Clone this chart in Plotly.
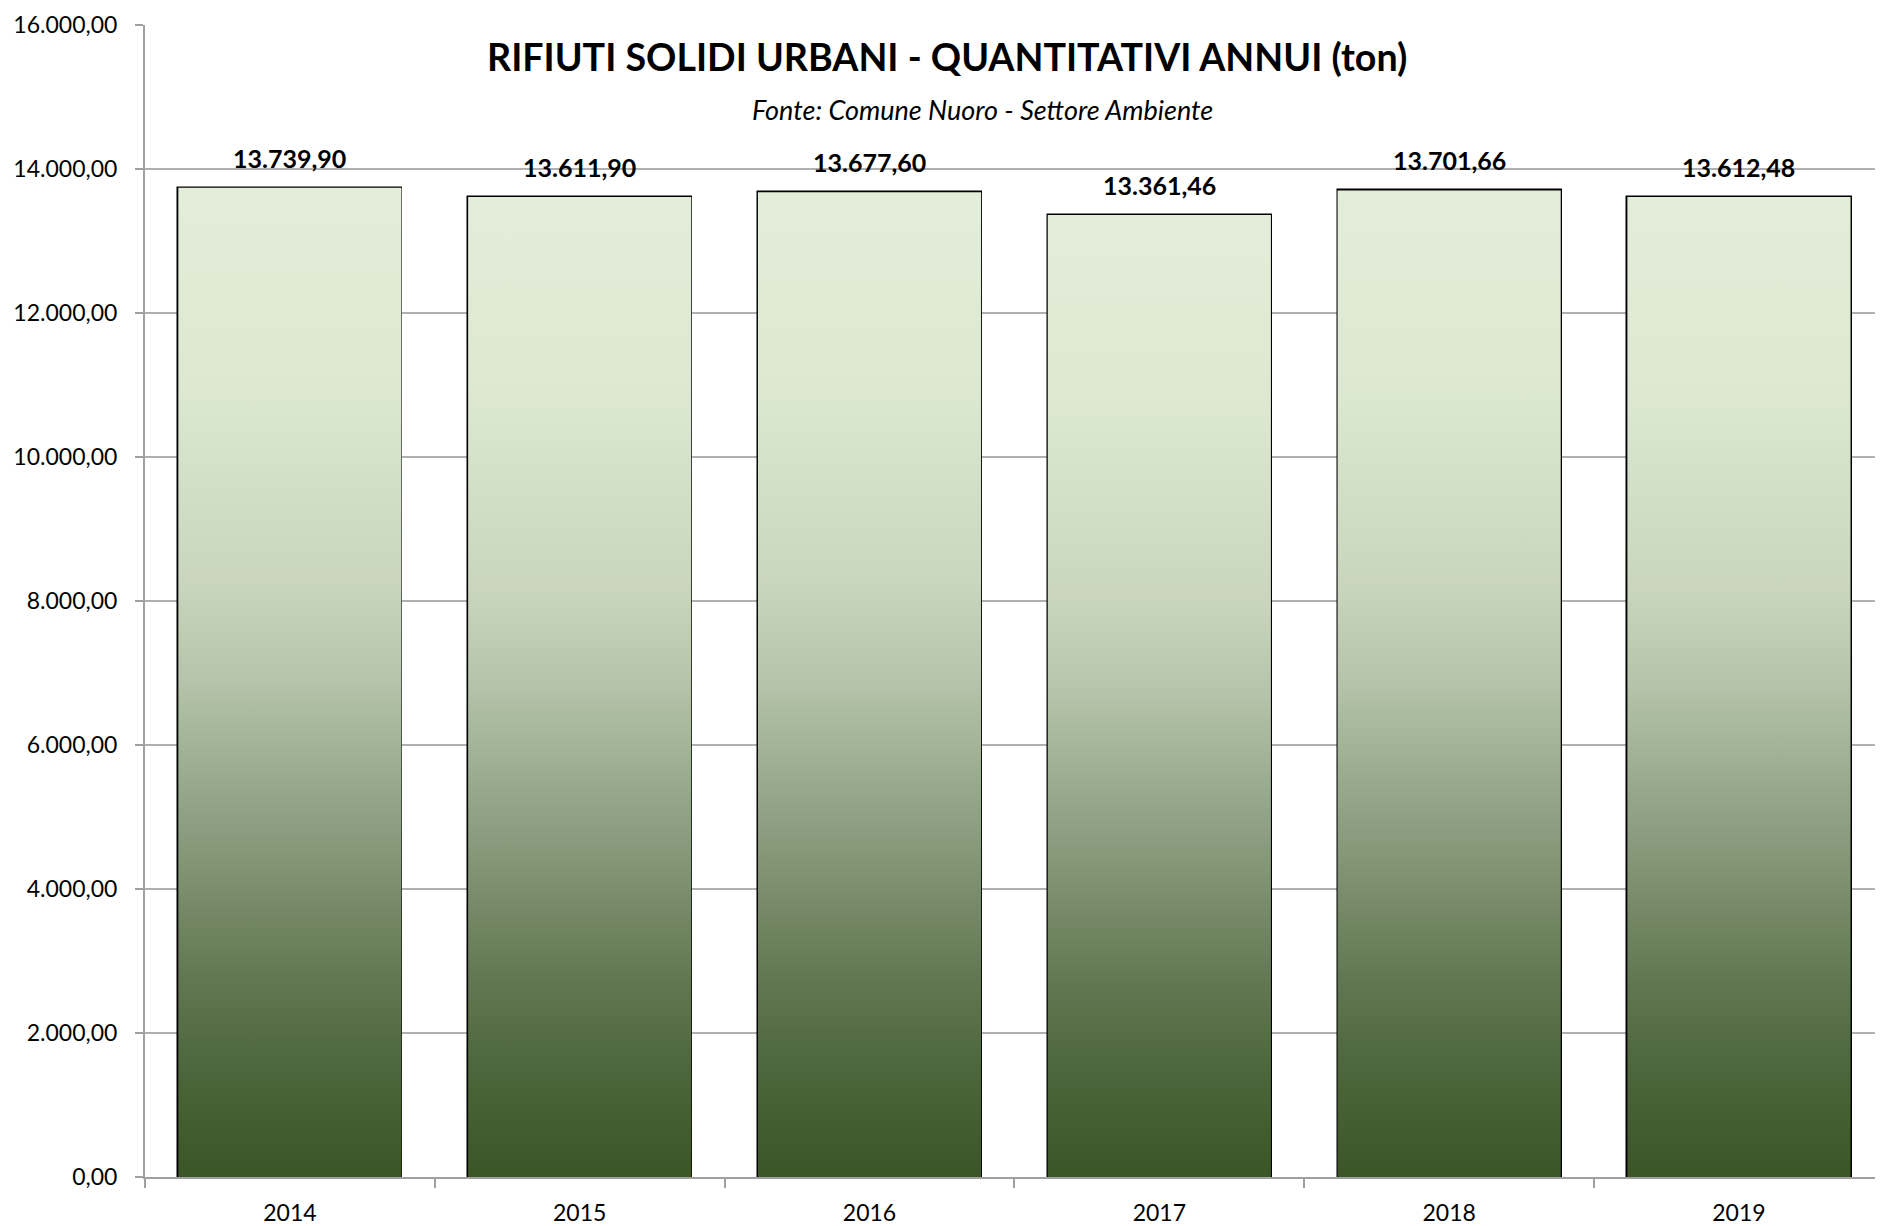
import plotly.graph_objects as go

years = ["2014", "2015", "2016", "2017", "2018", "2019"]
values = [13739.90, 13611.90, 13677.60, 13361.46, 13701.66, 13612.48]
y_ticks = [0, 2000, 4000, 6000, 8000, 10000, 12000, 14000, 16000]

title_text = "RIFIUTI SOLIDI URBANI - QUANTITATIVI ANNUI (ton)"
subtitle_text = "Fonte: Comune Nuoro - Settore Ambiente"

FONT = "Lato"
BAR_W = 0.77
gradient = [
    [0.0, "#3b5527"],
    [0.1, "#4b6439"],
    [0.2, "#617752"],
    [0.3, "#7d9070"],
    [0.4, "#98aa8c"],
    [0.5, "#b4c3a9"],
    [0.6, "#c9d6bd"],
    [0.8, "#dce8d1"],
    [1.0, "#e2eed9"],
]


def it_fmt(v):
    s = f"{v:,.2f}"
    return s.replace(",", "X").replace(".", ",").replace("X", ".")


xs = list(range(len(years)))
fig = go.Figure()

# gradient-filled bar bodies
for x, v in zip(xs, values):
    fig.add_trace(go.Scatter(
        x=[x - BAR_W / 2, x + BAR_W / 2, x + BAR_W / 2, x - BAR_W / 2, x - BAR_W / 2],
        y=[0, 0, v, v, 0],
        mode="lines", fill="toself",
        line=dict(width=0, color="rgba(0,0,0,0)"),
        fillgradient=dict(type="vertical", colorscale=gradient, start=0, stop=v),
        hoverinfo="skip", showlegend=False,
    ))

# outlines
fig.add_trace(go.Bar(
    x=xs, y=values, width=BAR_W,
    marker=dict(color="rgba(0,0,0,0)", line=dict(color="#000000", width=2.5)),
    showlegend=False,
))

for x, v in zip(xs, values):
    fig.add_annotation(
        x=x, y=v, text="<b>" + it_fmt(v) + "</b>", showarrow=False,
        yanchor="bottom", yshift=13, font=dict(family=FONT, size=25, color="#000000"),
    )

fig.add_annotation(
    xref="paper", yref="paper", x=0.4614, y=0.973, text="<b>" + title_text + "</b>",
    showarrow=False, xanchor="center", yanchor="middle",
    font=dict(family=FONT, size=37.6, color="#000000"),
)
fig.add_annotation(
    xref="paper", yref="paper", x=0.4816, y=0.927, text="<i>" + subtitle_text + "</i>",
    showarrow=False, xanchor="center", yanchor="middle",
    font=dict(family=FONT, size=27, color="#000000"),
)

fig.update_layout(
    width=1875, height=1218,
    margin=dict(l=137, r=0, t=17, b=49, autoexpand=False),
    plot_bgcolor="white", paper_bgcolor="white",
    separators=",.",
    font=dict(family=FONT, size=23, color="#000000"),
    bargap=0,
)
fig.update_xaxes(
    range=[-0.5, 5.497], automargin=False,
    tickvals=xs, ticktext=years, ticks="", ticklabelstandoff=14,
    showgrid=False, zeroline=False,
    showline=True, linecolor="#a0a0a0", linewidth=2,
    tickfont=dict(family=FONT, size=23, color="#000000"),
    minor=dict(tickvals=[x - 0.5 for x in xs] + [xs[-1] + 0.5], ticks="outside",
               ticklen=9, tickcolor="#a0a0a0", tickwidth=2, showgrid=False),
)
fig.update_yaxes(
    range=[0, 16000], tickvals=y_ticks, tickformat=",.2f", automargin=False,
    showgrid=True, gridcolor="#b0b0b0", gridwidth=1.5,
    zeroline=False, showline=True, linecolor="#a0a0a0", linewidth=2,
    ticks="outside", ticklen=8, tickcolor="#a0a0a0", tickwidth=2, ticklabelstandoff=13,
    tickfont=dict(family=FONT, size=23, color="#000000"),
)

fig.write_html("out.html")
